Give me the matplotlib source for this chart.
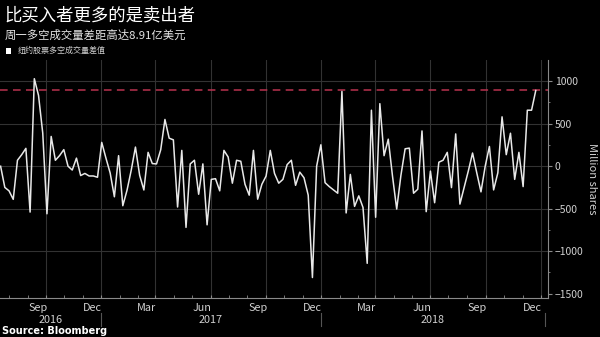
import matplotlib
matplotlib.use("Agg")
import matplotlib.pyplot as plt
import matplotlib.dates as mdates
import matplotlib.transforms as mtransforms
from matplotlib.patches import Rectangle
import pandas as pd

plt.rcParams["font.family"] = ["Noto Sans CJK SC", "DejaVu Sans"]

# weekly NYSE long/short volume gap, million shares
start_date = "2016-07-01"
gap = [
    0, -250, -290, -390, 70, 135, 210, -540, 1030, 833,
    390, -560, 350, 70, 125, 195, 0, -45, 95, -110,
    -85, -115, -115, -130, 280, 95, -80, -360, 124, -465,
    -283, -47, 225, -108, -280, 163, 31, 27, 194, 550,
    330, 310, -480, 186, -720, 27, 70, -330, 27, -690,
    -155, -147, -290, 186, 108, -200, 70, 58, -213, -341,
    186, -388, -213, -116, 186, -85, -200, -155, 19, 70,
    -225, -70, -136, -341, -1310, 0, 252, -194, -240, -279,
    -318, 880, -550, -97, -473, -349, -485, -1143, 659, -601,
    736, 124, 318, -116, -504, -108, 205, 213, -318, -271,
    415, -535, -58, -430, 47, 70, 163, -252, 380, -446,
    -250, -55, 155, -78, -302, 0, 232, -279, -78, 581,
    136, 388, -155, 163, -240, 659, 659, 891,
]
threshold = 891
y_ticks = [-1500, -1000, -500, 0, 500, 1000]
month_labels = ["Sep", "Dec", "Mar", "Jun", "Sep", "Dec", "Mar", "Jun", "Sep", "Dec"]
month_starts = ["2016-09-01", "2016-12-01", "2017-03-01", "2017-06-01", "2017-09-01",
                "2017-12-01", "2018-03-01", "2018-06-01", "2018-09-01", "2018-12-01"]
years = ["2016", "2017", "2018"]
year_bounds = ["2016-06-30", "2016-12-15", "2017-12-15", "2018-12-22"]

dates = pd.date_range(start_date, periods=len(gap), freq="7D")

bg = "black"
grid_c = "#323232"
axis_c = "#8a8a8a"
text_c = "#d0d0d0"

fig = plt.figure(figsize=(6, 3.37), dpi=100, facecolor=bg)
ax = fig.add_axes([0.0, 0.116, 0.913, 0.706], facecolor=bg)

ax.plot(dates, gap, color="#e8e8e8", lw=1.1, zorder=3)
ax.axhline(threshold, color="#b8324f", lw=1.1, ls=(0, (5, 3.5)), zorder=2)

ax.set_xlim(pd.Timestamp("2016-06-30"), pd.Timestamp("2018-12-27"))
ax.set_ylim(-1550, 1250)

# gridlines sit mid-month, labels at month start (Bloomberg style)
ax.xaxis.set_major_locator(mdates.MonthLocator(bymonth=[3, 6, 9, 12], bymonthday=15))
ax.xaxis.set_minor_locator(mdates.MonthLocator(bymonthday=15))
ax.xaxis.set_major_formatter(plt.NullFormatter())
ax.tick_params(axis="x", which="both", direction="in", length=2, color=axis_c)
ax.grid(True, axis="x", which="major", color=grid_c, lw=0.8)

ax.yaxis.tick_right()
ax.yaxis.set_label_position("right")
ax.set_yticks(y_ticks)
ax.set_yticks(range(-1500, 1001, 250), minor=True)
ax.tick_params(axis="y", which="major", length=3, color=axis_c, labelcolor=text_c,
               labelsize=7.5, pad=2)
ax.tick_params(axis="y", which="minor", length=1.5, color=axis_c)
for v in y_ticks[1:]:
    ax.axhline(v, color=grid_c, lw=0.8, zorder=1)
ax.set_ylabel("Million shares", color=text_c, fontsize=8, rotation=270,
              labelpad=10)

for s in ["top", "left"]:
    ax.spines[s].set_visible(False)
for s in ["bottom", "right"]:
    ax.spines[s].set_color(axis_c)
    ax.spines[s].set_linewidth(0.8)

trans = mtransforms.blended_transform_factory(ax.transData, ax.transAxes)
for lab, d in zip(month_labels, month_starts):
    ax.text(mdates.date2num(pd.Timestamp(d)), -0.042, lab, transform=trans,
            ha="center", va="center", color=text_c, fontsize=7.8)
for i, yr in enumerate(years):
    a = mdates.date2num(pd.Timestamp(year_bounds[i]))
    b = mdates.date2num(pd.Timestamp(year_bounds[i + 1]))
    ax.text((a + b) / 2, -0.094, yr, transform=trans, ha="center", va="center",
            color=text_c, fontsize=7.8)
    ax.plot([b, b], [-0.065, -0.12], transform=trans, color="#555555",
            lw=0.8, clip_on=False)

fig.text(0.008, 0.955, "比买入者更多的是卖出者", color="white", fontsize=12.5,
         ha="left", va="center")
fig.text(0.008, 0.895, "周一多空成交量差距高达8.91亿美元", color="#e6e6e6",
         fontsize=8.2, ha="left", va="center")
fig.patches.append(Rectangle((0.010, 0.841), 0.009, 0.016, transform=fig.transFigure,
                             facecolor="white", edgecolor="none"))
fig.text(0.029, 0.849, "纽约股票多空成交量差值", color=text_c, fontsize=5.8,
         ha="left", va="center")
fig.text(0.004, 0.018, "Source: Bloomberg", color="white", fontsize=7,
         fontweight="bold", family="DejaVu Sans", ha="left", va="center")

fig.savefig("out.png", dpi=100, facecolor=bg)
